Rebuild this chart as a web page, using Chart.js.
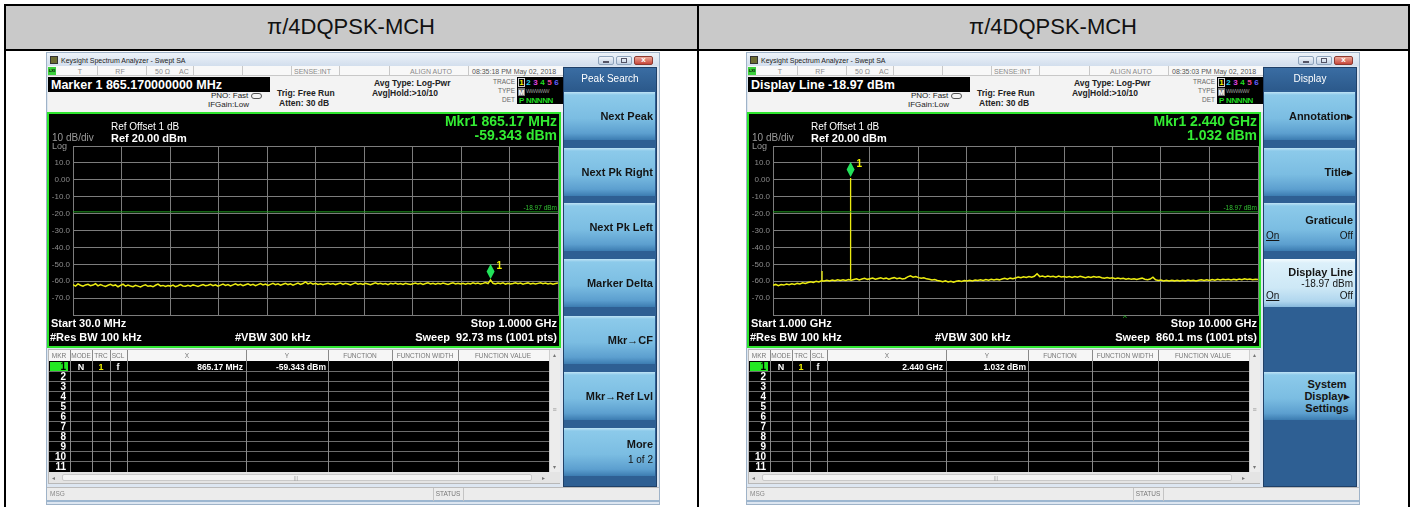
<!DOCTYPE html>
<html>
<head>
<meta charset="utf-8">
<script src="https://cdn.jsdelivr.net/npm/chart.js"></script>
<style>
  body { margin: 0; width: 1413px; height: 507px; overflow: hidden; background: #fff; position: relative;
         font-family: "Liberation Sans", Arial, sans-serif; }
  .a { position: absolute; white-space: nowrap; line-height: 1; }
  .box { position: absolute; box-sizing: border-box; }
  canvas { position: absolute; }
</style>
</head>
<body>
<div id="root"></div>
<script>
// ---- data read from the two analyzer screens ----
const TABLE_TITLE = 'π/4DQPSK-MCH';
const Y_TICKS = [20, 10, 0, -10, -20, -30, -40, -50, -60, -70, -80];
const Y_TICK_LABELS = ['', '10.0', '0.00', '-10.0', '-20.0', '-30.0', '-40.0', '-50.0', '-60.0', '-70.0', ''];
const DISPLAY_LINE_DBM = -18.97;

// left screen: 30 MHz .. 1 GHz
const LEFT_SPAN_MHZ = [30, 1000];
const LEFT_TRACE_DBM = [
  -62.1,-62.9,-61.6,-62.4,-63.0,-62.2,-61.8,-62.7,-62.3,-61.5,-62.8,-62.0,-62.6,
  -63.1,-62.4,-61.9,-62.7,-62.2,-63.3,-62.5,-61.8,-62.9,-62.3,-62.8,-63.2,-62.4,
  -62.9,-63.4,-62.6,-62.1,-63.0,-62.7,-63.3,-62.4,-61.7,-62.8,-62.5,-63.1,-62.6,
  -62.9,-62.3,-63.2,-62.7,-62.0,-62.8,-63.0,-62.4,-62.9,-62.2,-62.6,-63.1,-62.5,
  -62.0,-62.7,-62.4,-61.8,-62.6,-62.1,-62.9,-62.3,-61.7,-62.5,-62.0,-62.8,-62.2,
  -61.6,-62.4,-61.9,-62.7,-62.1,-61.5,-62.3,-61.8,-62.6,-62.0,-61.4,-62.2,-61.7,
  -62.5,-61.9,-61.3,-62.1,-61.6,-62.4,-61.8,-61.2,-62.0,-61.5,-62.3,-61.7,-61.1,
  -61.9,-61.4,-60.4,-61.6,-61.0,-61.8,-61.3,-61.9,-61.5,-62.1,-61.6,-61.2,-61.8,
  -61.4,-62.0,-61.5,-61.1,-61.9,-61.3,-61.7,-62.2,-61.6,-61.0,-61.8,-61.4,-61.9,
  -61.3,-61.7,-62.1,-61.5,-60.9,-61.6,-61.2,-61.8,-61.4,-62.0,-61.3,-61.7,-61.1,
  -61.8,-61.4,-61.9,-61.2,-61.6,-62.0,-61.5,-61.1,-61.7,-61.3,-61.9,-61.4,-61.0,
  -61.6,-61.2,-61.8,-61.3,-61.7,-61.1,-61.5,-61.9,-61.4,-61.0,-61.6,-61.2,-61.7,
  -61.3,-61.8,-61.2,-61.6,-61.0,-61.5,-61.1,-61.7,-61.3,-60.8,-61.4,-59.343,-61.2,
  -61.6,-61.1,-61.5,-61.0,-61.7,-61.2,-61.6,-61.3,-60.9,-61.5,-61.1,-61.8,-61.3,
  -61.0,-61.6,-61.2,-61.7,-61.3,-60.9,-61.5,-61.1,-61.6,-61.2,-61.8,-61.4,-61.0
];
const LEFT_MARKER = [865.17, -59.343];

// right screen: 1 GHz .. 10 GHz
const RIGHT_SPAN_GHZ = [1, 10];
const RIGHT_TRACE_DBM = [
  -62.4,-61.9,-62.6,-62.0,-62.3,-61.7,-62.1,-61.5,-61.9,-61.3,
  -61.6,-61.0,-61.4,-60.8,-60.3,-60.7,-60.1,-60.5,-59.8,-59.9,
  -59.4,-59.9,-59.3,-59.7,-59.2,-59.6,-59.1,-59.5,-59.0,-59.4,
  -59.0,-58.6,-59.2,-58.7,-58.3,-58.9,-58.5,-58.1,-58.8,-58.4,
  -58.0,-58.6,-58.2,-58.8,-58.3,-57.9,-58.5,-58.1,-58.7,-58.4,
  -57.4,-56.8,-57.6,-57.2,-57.9,-58.3,-58.0,-58.6,-58.9,-59.3,
  -59.0,-59.6,-59.9,-60.3,-59.8,-60.4,-60.1,-60.6,-60.0,-59.7,
  -60.1,-59.6,-59.9,-59.4,-59.8,-59.3,-59.6,-59.1,-59.5,-59.0,
  -59.4,-58.9,-59.3,-58.8,-59.2,-58.7,-58.3,-58.8,-58.2,-58.6,
  -58.1,-57.6,-58.0,-57.4,-57.8,-57.2,-57.7,-57.1,-55.6,-57.3,
  -57.0,-57.5,-56.9,-57.4,-57.1,-57.6,-57.0,-57.5,-57.2,-57.7,
  -57.3,-57.8,-57.2,-57.6,-57.1,-57.5,-57.9,-57.4,-57.8,-57.3,
  -57.7,-57.4,-57.9,-58.2,-57.8,-58.3,-58.0,-58.5,-58.1,-58.6,
  -58.3,-58.8,-58.4,-58.9,-58.5,-59.0,-58.6,-58.2,-58.8,-59.1,
  -58.7,-57.6,-59.2,-59.6,-59.3,-59.8,-59.4,-59.9,-59.5,-59.8,
  -59.4,-59.9,-59.5,-59.8,-59.3,-59.7,-59.4,-59.9,-59.5,-59.2,
  -59.6,-59.1,-59.5,-59.0,-59.4,-58.9,-59.3,-58.8,-59.2,-58.9,
  -59.3,-58.8,-59.2,-58.7,-59.1,-58.6,-59.0,-58.7,-59.1,-58.8,
  -59.0
];
const RIGHT_SPIKE_GHZ = [1.91, 2.44];
const RIGHT_SPIKE_DBM = [-54.0, 1.032];
const RIGHT_SPIKE_FLOOR_DBM = [-59.9, -59.2];
const RIGHT_MARKER = [2.44, 1.032];

// ---- screen texts ----
const PANELS = [
  {
    ox: 0, bar: 'Marker 1 865.170000000 MHz', time: '08:35:18 PM May 02, 2018',
    mkr: ['Mkr1 865.17 MHz', '-59.343 dBm'], start: 'Start 30.0 MHz', stop: 'Stop 1.0000 GHz',
    sweep: 'Sweep&nbsp;&nbsp;92.73 ms (1001 pts)', row1: ['865.17 MHz', '-59.343 dBm'],
    menu: 'Peak Search',
    keys: [{ t: 'Next Peak' }, { t: 'Next Pk Right' }, { t: 'Next Pk Left' }, { t: 'Marker Delta' },
           { t: 'Mkr→CF' }, { t: 'Mkr→Ref Lvl' }, { t: 'More', sub: '1 of 2' }]
  },
  {
    ox: 700, bar: 'Display Line -18.97 dBm', time: '08:35:03 PM May 02, 2018',
    mkr: ['Mkr1 2.440 GHz', '1.032 dBm'], start: 'Start 1.000 GHz', stop: 'Stop 10.000 GHz',
    sweep: 'Sweep&nbsp;&nbsp;860.1 ms (1001 pts)', row1: ['2.440 GHz', '1.032 dBm'],
    menu: 'Display', caret: true,
    keys: [{ t: 'Annotation▸' }, { t: 'Title▸' }, { t: 'Graticule', onoff: true },
           { t: 'Display Line', sub: '-18.97 dBm', onoff: true, hi: true }, null,
           { multi: ['System', 'Display▸', 'Settings'] }, null]
  }
];

function T(x, y, s, css, align) {
  const tx = align === 'r' ? '-100%' : align === 'c' ? '-50%' : '0';
  return `<div class="a" style="left:${x}px;top:${y}px;transform:translate(${tx},-50%);${css || ''}">${s}</div>`;
}
function B(x, y, w, h, css) {
  return `<div class="box" style="left:${x}px;top:${y}px;width:${w}px;height:${h}px;${css || ''}"></div>`;
}

const KEY_TOP = [92, 148, 203, 259, 316, 372, 428];
const KEY_BG = 'background:linear-gradient(#bfe3f5 0px,#8ccaea 3px,#7bbde2 55%,#5c9fcf 86%,#3c7cb1 100%);';
const KEY_HI = 'background:linear-gradient(#f4fbfe 0px,#dcf0fa 4px,#cde8f6 60%,#b0d6ee 88%,#86b8dc 100%);';

function keyHTML(o, k, i) {
  if (!k) return '';
  const top = KEY_TOP[i], R = o + 653;
  const bold = 'font-size:11px;font-weight:bold;color:#141414';
  const reg = 'font-size:10px;color:#141414';
  let h = B(o + 564, top, 91, 48, k.hi ? KEY_HI : KEY_BG);
  if (k.multi) {
    k.multi.forEach((s, j) => { h += T(o + 627, top + 12 + j * 12, s, bold, 'c'); });
  } else if (k.onoff && k.sub) {
    h += T(R, top + 13, k.t, bold, 'r');
    h += T(R, top + 25, k.sub, reg, 'r');
    h += T(o + 566, top + 37, 'On', reg + ';text-decoration:underline', 'l');
    h += T(R, top + 37, 'Off', reg, 'r');
  } else if (k.onoff) {
    h += T(R, top + 17, k.t, bold, 'r');
    h += T(o + 566, top + 33, 'On', reg + ';text-decoration:underline', 'l');
    h += T(R, top + 33, 'Off', reg, 'r');
  } else if (k.sub) {
    h += T(R, top + 16, k.t, bold, 'r');
    h += T(R, top + 32, k.sub, reg, 'r');
  } else {
    h += T(R, top + 24, k.t, bold, 'r');
  }
  return h;
}

function screenHTML(p, idx) {
  const o = p.ox;
  const st = 'font-size:7px;color:#8a8a8a';
  let h = '';
  // window frame and title bar
  h += B(o + 46, 52, 614, 453, 'background:#dde6f1;border:1px solid #9fb3c8');
  h += B(o + 47, 53, 612, 13, 'background:linear-gradient(#edf3f9,#d2deed)');
  h += B(o + 50, 56, 8, 8, 'background:#6b6b32;border:1px solid #333');
  h += T(o + 61, 60, 'Keysight Spectrum Analyzer - Swept SA', 'font-size:7px;color:#222');
  h += B(o + 598, 56, 16, 9, 'background:linear-gradient(#f1f5fa,#c3d2e4);border:1px solid #8ea3bb;border-radius:2px');
  h += B(o + 616, 56, 16, 9, 'background:linear-gradient(#f1f5fa,#c3d2e4);border:1px solid #8ea3bb;border-radius:2px');
  h += B(o + 634, 56, 19, 9, 'background:linear-gradient(#eba899,#c8473a);border:1px solid #8e3a30;border-radius:2px');
  h += B(o + 603, 61, 6, 2, 'background:#556');
  h += B(o + 621, 58, 6, 5, 'border:1px solid #556');
  h += T(o + 643.5, 60, 'x', 'font-size:8px;color:#fff;font-weight:bold', 'c');
  // status row
  h += B(o + 48, 66, 515, 10, 'background:#f8f8f8;border-bottom:1px solid #c8c8c8');
  [97, 146, 193, 242, 291, 339, 389, 468].forEach(x => { h += B(o + x, 66, 1, 10, 'background:#c8c8c8'); });
  h += B(o + 48, 67, 8, 8, 'background:#3bd13b');
  h += T(o + 52, 71, 'LXI', 'font-size:4px;font-weight:bold;color:#000', 'c');
  h += T(o + 80, 71, 'T', st, 'c');
  h += T(o + 120, 71, 'RF', st, 'c');
  h += T(o + 155, 71, '50 Ω', st);
  h += T(o + 179, 71, 'AC', st);
  h += T(o + 294, 71, 'SENSE:INT', st);
  h += T(o + 410, 71, 'ALIGN AUTO', st);
  h += T(o + 472, 71, p.time, 'font-size:7px;color:#555');
  // settings area
  h += B(o + 48, 76, 515, 36, 'background:#f3f3f3');
  h += B(o + 48, 77, 222, 15, 'background:#000');
  h += T(o + 51, 84.5, p.bar, 'font-size:12.5px;font-weight:bold;color:#fff');
  h += T(o + 211, 96, 'PNO: Fast', 'font-size:8px;color:#222');
  h += T(o + 208, 105, 'IFGain:Low', 'font-size:8px;color:#222');
  h += B(o + 251, 93, 11, 6, 'border:1px solid #555;border-radius:3px');
  h += T(o + 277, 93, 'Trig: Free Run', 'font-size:8.5px;font-weight:bold;color:#222');
  h += T(o + 279, 103, 'Atten: 30 dB', 'font-size:8.5px;font-weight:bold;color:#222');
  h += T(o + 374, 83, 'Avg Type: Log-Pwr', 'font-size:8.5px;font-weight:bold;color:#222');
  h += T(o + 372, 93, 'Avg|Hold:&gt;10/10', 'font-size:8.5px;font-weight:bold;color:#222');
  h += T(o + 515, 82, 'TRACE', 'font-size:6.5px;color:#666', 'r');
  h += T(o + 515, 91, 'TYPE', 'font-size:6.5px;color:#666', 'r');
  h += T(o + 515, 100, 'DET', 'font-size:6.5px;color:#666', 'r');
  h += B(o + 517, 77, 46, 27, 'background:#000');
  h += B(o + 518, 78, 7, 9, 'border:1px solid #ccc');
  ['#f2f200', '#22d3ee', '#e040e0', '#22dd22', '#ee4499', '#6060ff'].forEach((c, j) => {
    h += T(o + 521.5 + j * 7, 82.5, String(j + 1), `font-size:8px;font-weight:bold;color:${c}`, 'c');
  });
  h += B(o + 518, 87.5, 7, 8, 'background:#777');
  h += T(o + 521.5, 91.5, 'M', 'font-size:7px;font-weight:bold;color:#fff', 'c');
  h += T(o + 526, 91.5, 'WWWWW', 'font-size:5.5px;color:#999;letter-spacing:-0.6px');
  h += T(o + 519, 100.5, 'P', 'font-size:8px;font-weight:bold;color:#22dd22');
  h += T(o + 526, 100.5, 'NNNNN', 'font-size:8px;font-weight:bold;color:#22dd22;letter-spacing:-0.4px');
  // plot panel
  h += B(o + 47, 112, 514, 236, 'background:#000;border:2px solid #2ee52e');
  h += `<canvas id="cv${idx}" width="512" height="235" style="left:${o + 48}px;top:112px"></canvas>`;
  h += T(o + 111, 127, 'Ref Offset 1 dB', 'font-size:10px;color:#fff');
  h += T(o + 52, 138, '10 dB/div', 'font-size:10px;color:#9a9a9a');
  h += T(o + 111, 138, 'Ref 20.00 dBm', 'font-size:11px;font-weight:bold;color:#fff');
  h += T(o + 52, 146, 'Log', 'font-size:9px;color:#9a9a9a');
  h += T(o + 557, 121, p.mkr[0], 'font-size:14px;font-weight:bold;color:#33ec33', 'r');
  h += T(o + 557, 135, p.mkr[1], 'font-size:14px;font-weight:bold;color:#33ec33', 'r');
  h += T(o + 51, 323, p.start, 'font-size:11px;font-weight:bold;color:#fff');
  h += T(o + 50, 337, '#Res BW 100 kHz', 'font-size:11px;font-weight:bold;color:#fff');
  h += T(o + 235, 337, '#VBW 300 kHz', 'font-size:11px;font-weight:bold;color:#fff');
  h += T(o + 557, 323, p.stop, 'font-size:11px;font-weight:bold;color:#fff', 'r');
  h += T(o + 557, 337, p.sweep, 'font-size:11px;font-weight:bold;color:#fff', 'r');
  if (p.caret) h += T(o + 425, 318, '^', 'font-size:8px;color:#2cd52c', 'c');
  // marker table
  h += B(o + 48, 349, 512, 135, 'background:#e9e9e9;border:1px solid #b8b8b8');
  h += B(o + 49, 350, 500, 11, 'background:#f6f6f6');
  const hs = 'font-size:6.5px;color:#777';
  [['MKR', 59], ['MODE', 81], ['TRC', 101], ['SCL', 118], ['X', 187], ['Y', 287],
   ['FUNCTION', 360], ['FUNCTION WIDTH', 425], ['FUNCTION VALUE', 503]].forEach(([s, x]) => {
    h += T(o + x, 355.5, s, hs, 'c');
  });
  h += B(o + 49, 361, 500, 111, 'background:#000');
  for (let k = 1; k < 11; k++) h += B(o + 49, 361 + k * 10, 500, 1, 'background:#6c6c6c');
  [70, 92, 110, 127, 246, 328, 392, 458].forEach(x => { h += B(o + x, 350, 1, 122, 'background:#8a8a8a'); });
  h += B(o + 50, 362, 18, 9, 'background:#22e822');
  for (let k = 1; k <= 11; k++) {
    h += T(o + 66, 367 + (k - 1) * 10, String(k), `font-size:10px;font-weight:bold;color:${k === 1 ? '#000' : '#fff'}`, 'r');
  }
  h += T(o + 81, 367, 'N', 'font-size:9px;font-weight:bold;color:#fff', 'c');
  h += T(o + 101, 367, '1', 'font-size:9px;font-weight:bold;color:#f2f200', 'c');
  h += T(o + 118, 367, 'f', 'font-size:9px;font-weight:bold;color:#fff', 'c');
  h += T(o + 243, 367, p.row1[0], 'font-size:8.5px;font-weight:bold;color:#fff', 'r');
  h += T(o + 326, 367, p.row1[1], 'font-size:8.5px;font-weight:bold;color:#fff', 'r');
  h += B(o + 549, 350, 11, 122, 'background:#ececec;border-left:1px solid #cfcfcf');
  h += T(o + 554.5, 355, '▴', 'font-size:6px;color:#777', 'c');
  h += T(o + 554.5, 409, '≡', 'font-size:7px;color:#999', 'c');
  h += T(o + 554.5, 467, '▾', 'font-size:6px;color:#777', 'c');
  h += B(o + 49, 472, 511, 11, 'background:#e4e4e4');
  h += B(o + 62, 474, 470, 7, 'background:#f4f4f4;border:1px solid #c9c9c9;border-radius:2px');
  h += T(o + 296, 477.5, '|||', 'font-size:5px;color:#999', 'c');
  h += T(o + 53, 477.5, '◂', 'font-size:6px;color:#777', 'c');
  h += T(o + 543, 477.5, '▸', 'font-size:6px;color:#777', 'c');
  // message bar
  h += B(o + 47, 487, 612, 15, 'background:#ececec;border-top:1px solid #bbb;border-bottom:2px solid #9cb6d0');
  h += T(o + 50, 494, 'MSG', 'font-size:6.5px;color:#888');
  h += B(o + 433, 488, 1, 13, 'background:#c4c4c4');
  h += B(o + 463, 488, 1, 13, 'background:#c4c4c4');
  h += T(o + 448, 494, 'STATUS', 'font-size:6.5px;color:#777', 'c');
  // softkey panel
  h += B(o + 563, 67, 94, 420, 'background:#2e5f93;border:1px solid #1f4068');
  h += B(o + 564, 68, 92, 22, 'background:linear-gradient(#3a6da3,#2c5a8c)');
  h += T(o + 610, 79, p.menu, 'font-size:10px;color:#fff', 'c');
  p.keys.forEach((k, i) => { h += keyHTML(o, k, i); });
  return h;
}

let html = '';
html += B(4, 4, 1406, 520, 'border:2px solid #000');
html += B(6, 6, 1402, 43, 'background:#c9c9c9');
html += B(4, 49, 1406, 2, 'background:#000');
html += B(697, 4, 2, 520, 'background:#000');
html += T(351, 27, TABLE_TITLE, 'font-size:22px;color:#111', 'c');
html += T(1053, 27, TABLE_TITLE, 'font-size:22px;color:#111', 'c');
PANELS.forEach((p, i) => { html += screenHTML(p, i); });
document.getElementById('root').innerHTML = html;

// ---- charts ----
Chart.defaults.font.family = '"Liberation Sans", Arial, sans-serif';

const markerPlugin = {
  id: 'mkr',
  afterDatasetsDraw(chart, args, opts) {
    const { ctx, chartArea: a } = chart;
    const x = chart.scales.x, y = chart.scales.y;
    ctx.save();
    const ly = y.getPixelForValue(DISPLAY_LINE_DBM);
    ctx.font = '6.5px "Liberation Sans"';
    ctx.fillStyle = '#33c033';
    ctx.textAlign = 'right';
    ctx.textBaseline = 'bottom';
    ctx.fillText(DISPLAY_LINE_DBM.toFixed(2) + ' dBm', a.right - 1, ly - 0.5);
    const mx = x.getPixelForValue(opts.freq), my = y.getPixelForValue(opts.level) - 1;
    ctx.beginPath();
    ctx.moveTo(mx, my);
    ctx.lineTo(mx + 4, my - 7.5);
    ctx.lineTo(mx, my - 15);
    ctx.lineTo(mx - 4, my - 7.5);
    ctx.closePath();
    ctx.fillStyle = '#22e25a';
    ctx.fill();
    ctx.fillStyle = '#f2f200';
    ctx.font = 'bold 10px "Liberation Sans"';
    ctx.textAlign = 'left';
    ctx.textBaseline = 'middle';
    ctx.fillText('1', mx + 6, my - 13);
    ctx.restore();
  }
};

function makeChart(id, span, levels, spikes, marker) {
  const step = (span[1] - span[0]) / (levels.length - 1);
  const trace = levels.map((v, i) => ({ x: span[0] + i * step, y: v }));
  const datasets = [
    { data: [{ x: span[0], y: DISPLAY_LINE_DBM }, { x: span[1], y: DISPLAY_LINE_DBM }],
      borderColor: '#1f9a1f', borderWidth: 1 },
    { data: trace, borderColor: '#ecec10', borderWidth: 1.5 }
  ];
  if (spikes) datasets.push({ data: spikes, borderColor: '#ecec10', borderWidth: 1.3, spanGaps: false });
  return new Chart(document.getElementById(id), {
    type: 'line',
    data: { datasets },
    plugins: [markerPlugin],
    options: {
      responsive: false,
      animation: false,
      devicePixelRatio: 1,
      layout: { padding: { top: 34, bottom: 32, left: 0, right: 2 } },
      elements: { point: { radius: 0 }, line: { tension: 0 } },
      plugins: { legend: { display: false }, tooltip: { enabled: false },
                 mkr: { freq: marker[0], level: marker[1] } },
      scales: {
        x: {
          type: 'linear', min: span[0], max: span[1],
          afterBuildTicks: s => { s.ticks = Array.from({ length: 11 }, (_, i) => ({ value: span[0] + i * (span[1] - span[0]) / 10 })); },
          afterFit: s => { s.height = 0; },
          ticks: { display: false },
          grid: { color: '#7c7c7c', drawTicks: false, lineWidth: 1 },
          border: { color: '#7c7c7c' }
        },
        y: {
          min: -80, max: 20,
          afterBuildTicks: s => { s.ticks = Y_TICKS.map(v => ({ value: v })); },
          afterFit: s => { s.width = 25; },
          ticks: { autoSkip: false, padding: 3, color: '#8c8c8c', font: { size: 8 },
                   callback: v => Y_TICK_LABELS[Y_TICKS.indexOf(v)] ?? '' },
          grid: { color: '#7c7c7c', drawTicks: false, lineWidth: 1 },
          border: { color: '#7c7c7c' }
        }
      }
    }
  });
}

const rightSpikes = [];
RIGHT_SPIKE_GHZ.forEach((f, i) => {
  rightSpikes.push({ x: f, y: RIGHT_SPIKE_FLOOR_DBM[i] }, { x: f, y: RIGHT_SPIKE_DBM[i] }, { x: f, y: null });
});

makeChart('cv0', LEFT_SPAN_MHZ, LEFT_TRACE_DBM, null, LEFT_MARKER);
makeChart('cv1', RIGHT_SPAN_GHZ, RIGHT_TRACE_DBM, rightSpikes, RIGHT_MARKER);
</script>
</body>
</html>
